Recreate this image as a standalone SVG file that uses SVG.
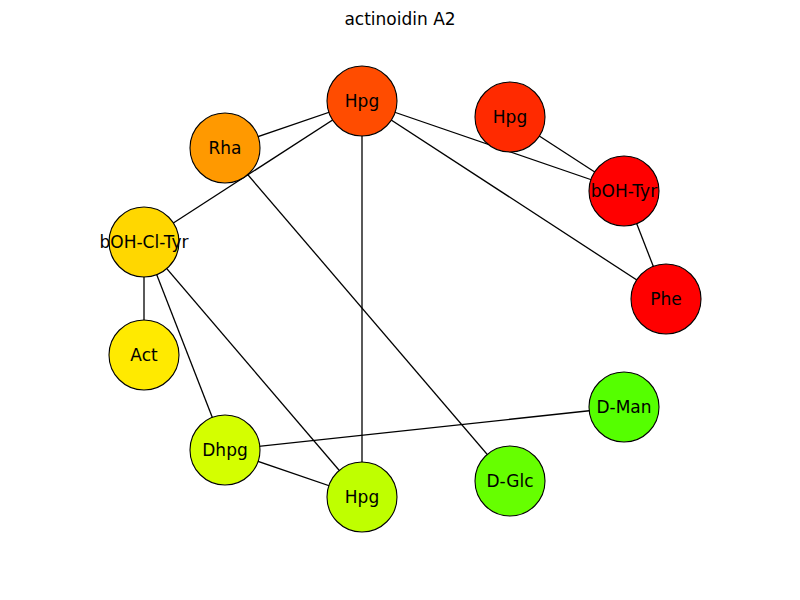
<svg xmlns="http://www.w3.org/2000/svg" width="800" height="600" viewBox="0 0 800 600">
  <style>
    .edge { stroke: #000; stroke-width: 1.3; fill: none; }
    .node circle { stroke: #000; stroke-width: 1.1; }
    .node text, .title { font-family: "DejaVu Sans", sans-serif; font-size: 17px; fill: #000; text-anchor: middle; dominant-baseline: central; }
  </style>
  <rect width="800" height="600" fill="#fff"/>
  <text class="title" x="400" y="19">actinoidin A2</text>
  <g id="edges">
    <line class="edge" x1="362" y1="101" x2="225" y2="148"/>
    <line class="edge" x1="362" y1="101" x2="144" y2="242"/>
    <line class="edge" x1="362" y1="101" x2="362" y2="497"/>
    <line class="edge" x1="362" y1="101" x2="624" y2="191"/>
    <line class="edge" x1="362" y1="101" x2="666" y2="299"/>
    <line class="edge" x1="510" y1="117" x2="624" y2="191"/>
    <line class="edge" x1="624" y1="191" x2="666" y2="299"/>
    <line class="edge" x1="225" y1="148" x2="510" y2="481"/>
    <line class="edge" x1="144" y1="242" x2="144" y2="355"/>
    <line class="edge" x1="144" y1="242" x2="225" y2="450"/>
    <line class="edge" x1="144" y1="242" x2="362" y2="497"/>
    <line class="edge" x1="225" y1="450" x2="624" y2="407"/>
    <line class="edge" x1="225" y1="450" x2="362" y2="497"/>
  </g>
  <g id="n-hpg1" class="node"><circle cx="362" cy="101" r="35" fill="#FF4C00"/><text x="362" y="101">Hpg</text></g>
  <g id="n-hpg2" class="node"><circle cx="510" cy="117" r="35" fill="#FF2A00"/><text x="510" y="117">Hpg</text></g>
  <g id="n-rha" class="node"><circle cx="225" cy="148" r="35" fill="#FF9900"/><text x="225" y="148">Rha</text></g>
  <g id="n-bohtyr" class="node"><circle cx="624" cy="191" r="35" fill="#FF0000"/><text x="624" y="191">bOH-Tyr</text></g>
  <g id="n-bohcltyr" class="node"><circle cx="144" cy="242" r="35" fill="#FFD700"/><text x="144" y="242">bOH-Cl-Tyr</text></g>
  <g id="n-phe" class="node"><circle cx="666" cy="299" r="35" fill="#FF0000"/><text x="666" y="299">Phe</text></g>
  <g id="n-act" class="node"><circle cx="144" cy="355" r="35" fill="#FFEA00"/><text x="144" y="355">Act</text></g>
  <g id="n-dman" class="node"><circle cx="624" cy="407" r="35" fill="#55FF00"/><text x="624" y="407">D-Man</text></g>
  <g id="n-dhpg" class="node"><circle cx="225" cy="450" r="35" fill="#D4FF00"/><text x="225" y="450">Dhpg</text></g>
  <g id="n-dglc" class="node"><circle cx="510" cy="481" r="35" fill="#66FF00"/><text x="510" y="481">D-Glc</text></g>
  <g id="n-hpg3" class="node"><circle cx="362" cy="497" r="35" fill="#BFFF00"/><text x="362" y="497">Hpg</text></g>
</svg>
